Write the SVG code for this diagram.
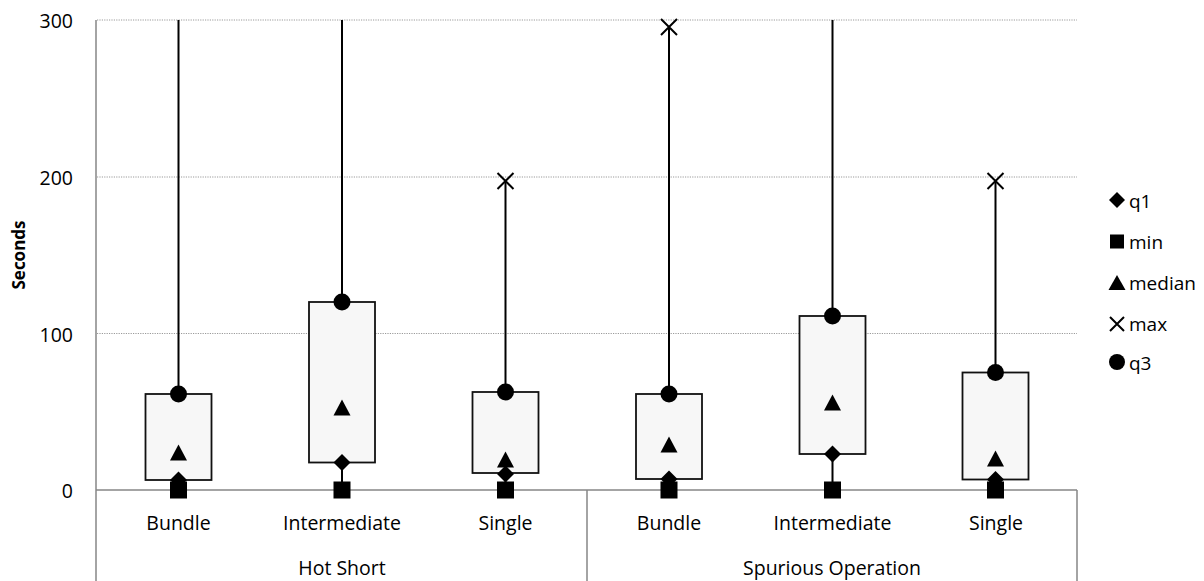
<svg xmlns="http://www.w3.org/2000/svg" width="1204" height="581" viewBox="0 0 1204 581">
<defs>
<style>
.t{font-family:"Open Sans","Liberation Sans",sans-serif;font-size:19.5px;fill:#000}
.ax{stroke:#868686;stroke-width:1.5;fill:none}
.grid{stroke:#9a9a9a;stroke-width:1;stroke-dasharray:1.2 1.2;fill:none}
.wh{stroke:#000;stroke-width:2;fill:none}
.box{fill:#f7f7f7;stroke:#111;stroke-width:1.8}
.mk{fill:#000}
.x{stroke:#000;stroke-width:2;fill:none}
</style>
<path id="dia" d="M0,-8.5 L8.5,0 L0,8.5 L-8.5,0Z"/>
<rect id="sq" x="-8.5" y="-8.5" width="17" height="17"/>
<path id="tri" d="M0,-8.5 L8.5,7.5 L-8.5,7.5Z"/>
<path id="xm" d="M-8,-8 L8,8 M8,-8 L-8,8"/>
<circle id="cir" r="8.5"/>
</defs>
<rect width="1204" height="581" fill="#fff"/>
<g id="gridlines">
<line class="grid" x1="97" y1="20" x2="1077" y2="20"/>
<line class="grid" x1="97" y1="177" x2="1077" y2="177"/>
<line class="grid" x1="97" y1="333.5" x2="1077" y2="333.5"/>
</g>
<g id="axes">
<line class="ax" x1="96" y1="20" x2="96" y2="581"/>
<line class="ax" x1="96" y1="490" x2="1077" y2="490"/>
<line class="ax" x1="587" y1="490" x2="587" y2="581"/>
<line class="ax" x1="1077" y1="490" x2="1077" y2="581"/>
<g class="t" text-anchor="end">
<text x="73" y="28">300</text>
<text x="73" y="185">200</text>
<text x="73" y="342">100</text>
<text x="73" y="498">0</text>
</g>
<text class="t" transform="translate(25,255) rotate(-90)" text-anchor="middle" style="font-weight:bold;font-size:17px">Seconds</text>
<g class="t" text-anchor="middle">
<text x="178.5" y="530">Bundle</text>
<text x="342" y="530">Intermediate</text>
<text x="505.5" y="530">Single</text>
<text x="669" y="530">Bundle</text>
<text x="832.5" y="530">Intermediate</text>
<text x="996" y="530">Single</text>
<text x="342" y="575">Hot Short</text>
<text x="832" y="575">Spurious Operation</text>
</g>
</g>
<g id="connectors">
<line class="wh" x1="178.5" y1="20" x2="178.5" y2="490"/>
<line class="wh" x1="342" y1="20" x2="342" y2="490"/>
<line class="wh" x1="505.5" y1="181" x2="505.5" y2="490"/>
<line class="wh" x1="669" y1="27" x2="669" y2="490"/>
<line class="wh" x1="832.5" y1="20" x2="832.5" y2="490"/>
<line class="wh" x1="995.5" y1="181" x2="995.5" y2="490"/>
</g>
<g id="hs-bundle">
<rect class="box" x="145.5" y="394" width="66" height="86"/>
<use href="#dia" x="178.5" y="480"/>
<use href="#sq" x="178.5" y="490"/>
<use href="#tri" x="178.5" y="453"/>
<use href="#cir" x="178.5" y="394"/>
</g>
<g id="hs-intermediate">
<rect class="box" x="309" y="302" width="66" height="160.5"/>
<use href="#dia" x="342" y="462.5"/>
<use href="#sq" x="342" y="490"/>
<use href="#tri" x="342" y="408"/>
<use href="#cir" x="342" y="302"/>
</g>
<g id="hs-single">
<rect class="box" x="472.5" y="392" width="66" height="81"/>
<use href="#dia" x="505.5" y="474"/>
<use href="#sq" x="505.5" y="490"/>
<use href="#tri" x="505.5" y="460"/>
<use href="#xm" class="x" x="505.5" y="181"/>
<use href="#cir" x="505.5" y="392"/>
</g>
<g id="so-bundle">
<rect class="box" x="636" y="394" width="66" height="85"/>
<use href="#dia" x="669" y="479"/>
<use href="#sq" x="669" y="490"/>
<use href="#tri" x="669" y="445"/>
<use href="#xm" class="x" x="669" y="27"/>
<use href="#cir" x="669" y="394"/>
</g>
<g id="so-intermediate">
<rect class="box" x="799.5" y="316" width="66" height="138"/>
<use href="#dia" x="832.5" y="454"/>
<use href="#sq" x="832.5" y="490"/>
<use href="#tri" x="832.5" y="403"/>
<use href="#cir" x="832.5" y="316"/>
</g>
<g id="so-single">
<rect class="box" x="962.5" y="372.5" width="66" height="107"/>
<use href="#dia" x="995.5" y="479.5"/>
<use href="#sq" x="995.5" y="490"/>
<use href="#tri" x="995.5" y="459"/>
<use href="#xm" class="x" x="995.5" y="181"/>
<use href="#cir" x="995.5" y="372.5"/>
</g>
<g id="legend">
<path d="M1117,192 L1125,200 L1117,208 L1109,200Z"/>
<rect x="1110" y="234.5" width="14" height="14"/>
<path d="M1117,275 L1125.5,290 L1108.5,290Z"/>
<path class="x" d="M1110,317 L1124,331 M1124,317 L1110,331"/>
<circle cx="1117" cy="362" r="8"/>
<g class="t" style="font-size:19px">
<text x="1129" y="208">q1</text>
<text x="1129" y="249">min</text>
<text x="1129" y="290">median</text>
<text x="1129" y="331">max</text>
<text x="1129" y="370">q3</text>
</g>
</g>
</svg>
